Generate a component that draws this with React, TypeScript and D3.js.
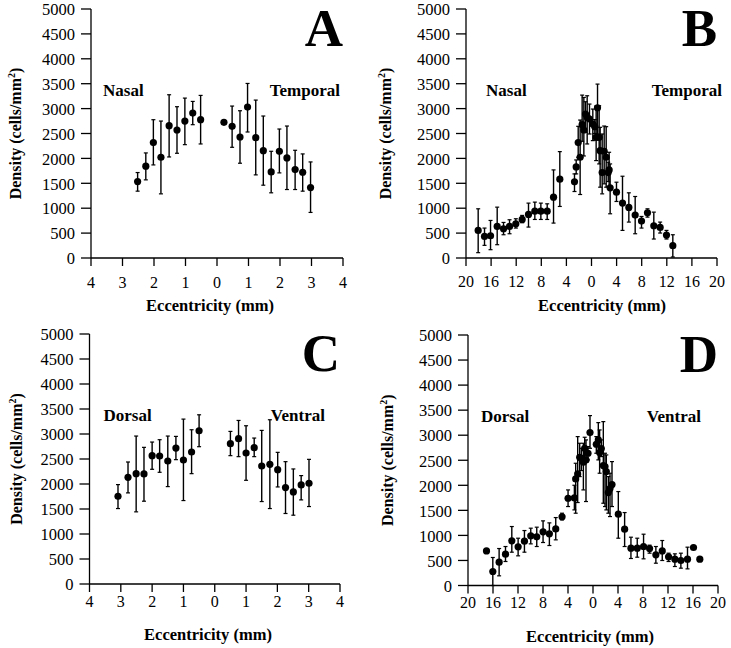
import React from 'react';
import * as d3 from 'd3';

// [eccentricity (signed mm, nasal/dorsal negative), density, low, high]
const nasalTemporalCentral = [
  [-2.52, 1535, 1342, 1716],
  [-2.26, 1843, 1569, 2110],
  [-2.02, 2317, 1869, 2777],
  [-1.78, 2023, 1288, 2750],
  [-1.52, 2657, 2029, 3278],
  [-1.27, 2570, 2103, 3038],
  [-1.02, 2750, 2276, 3211],
  [-0.77, 2911, 2677, 3144],
  [-0.52, 2777, 2290, 3265],
  [0.22, 2724, 2700, 2750],
  [0.48, 2644, 2223, 3051],
  [0.73, 2430, 1903, 2957],
  [0.97, 3031, 2530, 3505],
  [1.23, 2417, 1669, 3171],
  [1.47, 2156, 1462, 2851],
  [1.72, 1729, 1309, 2143],
  [1.98, 2143, 1709, 2590],
  [2.22, 2009, 1375, 2650],
  [2.48, 1776, 1375, 2163],
  [2.72, 1722, 1342, 2090],
  [2.97, 1415, 915, 1929],
];

const nasalTemporalWhole = [
  [-18.06, 554, 107, 988],
  [-17.05, 434, 254, 601],
  [-16.09, 447, 167, 754],
  [-15.03, 634, 267, 1021],
  [-14.02, 587, 467, 714],
  [-13.06, 634, 487, 768],
  [-12.06, 688, 601, 788],
  [-11.05, 774, 708, 855],
  [-10.04, 875, 621, 1102],
  [-9.03, 941, 774, 1122],
  [-8.07, 941, 774, 1102],
  [-7.06, 941, 774, 1088],
  [-6.05, 1222, 701, 1769],
  [-5.05, 1582, 1035, 2136],
  [-2.71, 1529, 1335, 1689],
  [-2.44, 1829, 1689, 1969],
  [-2.12, 2317, 2023, 2644],
  [-1.81, 2023, 1275, 2770],
  [-1.49, 2677, 2343, 3271],
  [-1.22, 2570, 2049, 3224],
  [-0.96, 2891, 2523, 3138],
  [-0.69, 2824, 2290, 3258],
  [-0.32, 2791, 2490, 3091],
  [0.21, 2690, 2357, 2991],
  [0.53, 2637, 2500, 2780],
  [0.74, 2423, 1956, 3051],
  [0.96, 3017, 2490, 3492],
  [1.22, 2423, 1889, 3058],
  [1.38, 2156, 1422, 2624],
  [1.7, 1716, 1288, 2490],
  [2.02, 2143, 1489, 2650],
  [2.34, 2023, 1422, 2637],
  [2.66, 1716, 1535, 1923],
  [2.81, 1769, 1422, 2123],
  [2.97, 1409, 888, 1889],
  [3.98, 1322, 1135, 1522],
  [4.94, 1102, 554, 1642],
  [5.95, 1015, 721, 1309],
  [6.96, 861, 487, 1235],
  [7.97, 741, 601, 834],
  [8.92, 908, 821, 988],
  [9.93, 648, 381, 921],
  [10.94, 614, 501, 721],
  [11.95, 461, 381, 554],
  [12.96, 247, 20, 467],
];

const dorsalVentralCentral = [
  [-3.09, 1755, 1509, 1988],
  [-2.77, 2134, 1822, 2440],
  [-2.51, 2207, 1443, 2959],
  [-2.26, 2201, 1656, 2733],
  [-2.0, 2567, 2294, 2839],
  [-1.76, 2560, 2234, 2886],
  [-1.5, 2460, 1948, 2959],
  [-1.24, 2719, 2487, 2952],
  [-1.0, 2480, 1669, 3298],
  [-0.74, 2640, 2207, 3085],
  [-0.5, 3065, 2746, 3384],
  [0.5, 2806, 2567, 3052],
  [0.76, 2906, 2547, 3271],
  [1.0, 2620, 2074, 3165],
  [1.26, 2726, 2547, 2919],
  [1.5, 2360, 1649, 3072],
  [1.76, 2394, 1509, 3285],
  [2.01, 2287, 1941, 2633],
  [2.26, 1928, 1410, 2447],
  [2.51, 1842, 1376, 2301],
  [2.76, 1981, 1682, 2168],
  [3.01, 2015, 1549, 2493],
];

const dorsalVentralWhole = [
  [-17.04, 691, 691, 691],
  [-16.03, 279, 0, 559],
  [-15.02, 465, 193, 738],
  [-14.0, 625, 479, 778],
  [-12.99, 891, 665, 1177],
  [-11.98, 771, 592, 944],
  [-10.97, 884, 665, 1097],
  [-9.96, 991, 831, 1144],
  [-9.0, 971, 778, 1164],
  [-7.99, 1071, 858, 1290],
  [-6.98, 1031, 798, 1250],
  [-5.96, 1130, 911, 1356],
  [-4.95, 1370, 1310, 1443],
  [-3.99, 1742, 1576, 1908],
  [-2.98, 1749, 1509, 2001],
  [-2.77, 2128, 1443, 2440],
  [-2.45, 2227, 1656, 2972],
  [-2.13, 2560, 2174, 2839],
  [-1.86, 2540, 2294, 2739],
  [-1.54, 2460, 1908, 2839],
  [-1.33, 2739, 2507, 2959],
  [-1.12, 2507, 1676, 2906],
  [-0.8, 2640, 2507, 2773],
  [-0.48, 3052, 2739, 3391],
  [0.53, 2819, 2640, 2972],
  [0.85, 2906, 2507, 3251],
  [1.06, 2653, 2241, 3105],
  [1.33, 2733, 2573, 2906],
  [1.65, 2394, 1642, 3271],
  [1.92, 2374, 1576, 2640],
  [2.13, 2274, 1509, 2606],
  [2.45, 1855, 1443, 2174],
  [2.72, 1935, 1376, 2241],
  [3.04, 2015, 1576, 2473],
  [4.05, 1423, 944, 1875],
  [5.06, 1124, 778, 1456],
  [6.07, 745, 539, 964],
  [7.08, 745, 565, 944],
  [8.09, 778, 532, 1024],
  [9.05, 738, 645, 805],
  [10.06, 612, 445, 778],
  [11.08, 691, 499, 898],
  [12.09, 572, 479, 645],
  [13.1, 525, 379, 632],
  [14.06, 499, 346, 645],
  [15.12, 525, 332, 765],
  [16.08, 758, 758, 758],
  [17.09, 525, 525, 525],
];

const densityTicks = d3.range(0, 5001, 500);
const centralTicks = [-4, -3, -2, -1, 0, 1, 2, 3, 4];
const wholeTicks = [-20, -16, -12, -8, -4, 0, 4, 8, 12, 16, 20];

const font = '"Liberation Serif", "Times New Roman", serif';

type PanelProps = {
  data: number[][];
  ticks: number[];
  x0: number; x1: number; yTop: number; yBot: number;
  letter: string;
  leftLabel: string; rightLabel: string;
  leftLabelX: number; rightLabelX: number;
  tickLabelDy: number; titleDy: number; titleX: number; yTitleX: number;
};

const Panel = (p: PanelProps) => {
  const x = d3.scaleLinear()
    .domain([p.ticks[0], p.ticks[p.ticks.length - 1]])
    .range([p.x0, p.x1]);
  const y = d3.scaleLinear().domain([0, 5000]).range([p.yBot, p.yTop]);
  const yMid = (p.yTop + p.yBot) / 2;

  return (
    <g fontFamily={font} fill="#000">
      {/* axes */}
      <line x1={p.x0} x2={p.x0} y1={p.yTop} y2={p.yBot} stroke="#000" strokeWidth={1.3} />
      <line x1={p.x0} x2={p.x1} y1={p.yBot} y2={p.yBot} stroke="#000" strokeWidth={1.3} />
      {densityTicks.map(t => (
        <g key={'y' + t}>
          <line x1={p.x0 - 10} x2={p.x0} y1={y(t)} y2={y(t)} stroke="#000" strokeWidth={1.3} />
          <text x={p.x0 - 16} y={y(t)} dy="0.38em" textAnchor="end" fontSize={16.5}>{t}</text>
        </g>
      ))}
      {p.ticks.map(t => (
        <g key={'x' + t}>
          <line x1={x(t)} x2={x(t)} y1={p.yBot} y2={p.yBot + 8} stroke="#000" strokeWidth={1.3} />
          <text x={x(t)} y={p.yBot + p.tickLabelDy} textAnchor="middle" fontSize={16}>{Math.abs(t)}</text>
        </g>
      ))}
      <text x={p.titleX} y={p.yBot + p.titleDy} textAnchor="middle" fontSize={16.5} fontWeight="bold">
        Eccentricity (mm)
      </text>
      <text transform={`translate(${p.yTitleX},${yMid}) rotate(-90)`} textAnchor="middle" fontSize={16} fontWeight="bold">
        Density (cells/mm<tspan dy="-6" fontSize={10}>2</tspan><tspan dy="6">)</tspan>
      </text>

      {/* labels */}
      <text x={p.x1} y={p.yTop + 37} textAnchor="end" fontSize={53} fontWeight="bold">{p.letter}</text>
      <text x={p.x0 + p.leftLabelX} y={p.yTop + 87} fontSize={17} fontWeight="bold">{p.leftLabel}</text>
      <text x={p.x1 + p.rightLabelX} y={p.yTop + 87} textAnchor="end" fontSize={17} fontWeight="bold">{p.rightLabel}</text>

      {/* error bars + points */}
      {p.data.map((d, i) => (
        <g key={i}>
          <line x1={x(d[0])} x2={x(d[0])} y1={y(d[2])} y2={y(d[3])} stroke="#000" strokeWidth={1.4} />
          <line x1={x(d[0]) - 2} x2={x(d[0]) + 2} y1={y(d[2])} y2={y(d[2])} stroke="#000" strokeWidth={1.2} />
          <line x1={x(d[0]) - 2} x2={x(d[0]) + 2} y1={y(d[3])} y2={y(d[3])} stroke="#000" strokeWidth={1.2} />
          <circle cx={x(d[0])} cy={y(d[1])} r={3.6} fill="#000" />
        </g>
      ))}
    </g>
  );
};

export default function App() {
  return (
    <svg width={731} height={648} style={{ position: 'absolute', left: 0, top: 0, background: '#fff' }}>
      <rect width={731} height={648} fill="#fff" />
      <Panel data={nasalTemporalCentral} ticks={centralTicks}
        x0={91} x1={343} yTop={9} yBot={258} letter="A"
        leftLabel="Nasal" rightLabel="Temporal" leftLabelX={12} rightLabelX={-3}
        tickLabelDy={30} titleDy={53} titleX={210} yTitleX={20.5} />
      <Panel data={nasalTemporalWhole} ticks={wholeTicks}
        x0={466} x1={717} yTop={9} yBot={258} letter="B"
        leftLabel="Nasal" rightLabel="Temporal" leftLabelX={20} rightLabelX={5}
        tickLabelDy={29} titleDy={53} titleX={602} yTitleX={391} />
      <Panel data={dorsalVentralCentral} ticks={centralTicks}
        x0={89.5} x1={340} yTop={334} yBot={584} letter="C"
        leftLabel="Dorsal" rightLabel="Ventral" leftLabelX={14} rightLabelX={-15}
        tickLabelDy={23} titleDy={56} titleX={208} yTitleX={22} />
      <Panel data={dorsalVentralWhole} ticks={wholeTicks}
        x0={468} x1={718} yTop={335} yBot={585.5} letter="D"
        leftLabel="Dorsal" rightLabel="Ventral" leftLabelX={13} rightLabelX={-17}
        tickLabelDy={22} titleDy={56} titleX={590} yTitleX={393} />
    </svg>
  );
}
